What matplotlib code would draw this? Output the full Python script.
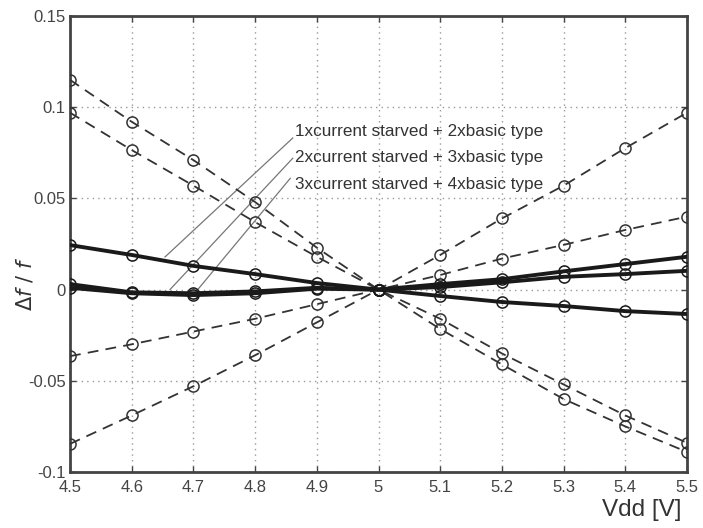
import matplotlib
matplotlib.use("Agg")
import matplotlib.pyplot as plt
import numpy as np

vdd = [4.5, 4.6, 4.7, 4.8, 4.9, 5.0, 5.1, 5.2, 5.3, 5.4, 5.5]

# dashed series
dash_a = [0.115, 0.092, 0.071, 0.048, 0.023, 0.0, -0.016, -0.035, -0.052, -0.069, -0.084]
dash_b = [0.097, 0.0765, 0.057, 0.037, 0.018, 0.0, -0.0216, -0.041, -0.060, -0.075, -0.089]
dash_c = [-0.0846, -0.069, -0.053, -0.036, -0.018, 0.0, 0.019, 0.039, 0.057, 0.0776, 0.097]
dash_d = [-0.0365, -0.030, -0.023, -0.016, -0.008, 0.0, 0.008, 0.017, 0.0245, 0.0327, 0.040]

# solid series
solid_1 = [0.0244, 0.019, 0.013, 0.0085, 0.0036, 0.0, -0.0035, -0.0068, -0.009, -0.0118, -0.0134]
solid_2 = [0.003, -0.0015, -0.002, -0.001, 0.001, 0.0, 0.003, 0.0057, 0.010, 0.014, 0.018]
solid_3 = [0.001, -0.002, -0.003, -0.002, 0.0005, 0.0, 0.0014, 0.004, 0.007, 0.0085, 0.0103]

labels = ["1xcurrent starved + 2xbasic type",
          "2xcurrent starved + 3xbasic type",
          "3xcurrent starved + 4xbasic type"]
label_text_pos = [(4.864, 0.0868), (4.864, 0.0724), (4.864, 0.0577)]
label_point = [(4.654, 0.0179), (4.662, 0.0), (4.707, 0.0)]
label_line_start = [(4.861, 0.0831), (4.861, 0.072), (4.857, 0.061)]

xticks = [4.5, 4.6, 4.7, 4.8, 4.9, 5.0, 5.1, 5.2, 5.3, 5.4, 5.5]
xticklabels = ["4.5", "4.6", "4.7", "4.8", "4.9", "5", "5.1", "5.2", "5.3", "5.4", "5.5"]
yticks = [-0.1, -0.05, 0.0, 0.05, 0.1, 0.15]
yticklabels = ["-0.1", "-0.05", "0", "0.05", "0.1", "0.15"]

plt.rcParams['font.family'] = ['Liberation Sans', 'DejaVu Sans']

fig = plt.figure(figsize=(7.03, 5.28), dpi=100)
ax = fig.add_axes([70/703, 1-472/528, 617/703, 456/528])

lc = '#1a1a1a'
for ys in [dash_a, dash_b, dash_c, dash_d]:
    ax.plot(vdd, ys, linestyle=(0, (6, 4)), color='#333333', linewidth=1.3,
            marker='o', markersize=8, markerfacecolor='none',
            markeredgecolor='#333333', markeredgewidth=1.1, zorder=3)
for ys in [solid_1, solid_2, solid_3]:
    ax.plot(vdd, ys, linestyle='-', color=lc, linewidth=2.8,
            marker='o', markersize=8, markerfacecolor='none',
            markeredgecolor=lc, markeredgewidth=1.1, zorder=4)

for lab, tp, pp, sp in zip(labels, label_text_pos, label_point, label_line_start):
    ax.plot([sp[0], pp[0]], [sp[1], pp[1]], color='#777777', linewidth=0.9, zorder=2)
    ax.text(tp[0], tp[1], lab, fontsize=12.3, color='#333333', va='center', ha='left')

ax.set_xlim(4.5, 5.5)
ax.set_ylim(-0.1, 0.15)
ax.set_xticks(xticks)
ax.set_xticklabels(xticklabels)
ax.set_yticks(yticks)
ax.set_yticklabels(yticklabels)
ax.tick_params(direction='in', length=4, width=1, colors='#444444', labelsize=12,
               top=True, right=True)
ax.tick_params(axis='x', pad=6)
ax.tick_params(axis='y', pad=3)
ax.grid(True, linestyle=(0, (1, 3)), color='#999999', linewidth=1)
for s in ax.spines.values():
    s.set_linewidth(2)
    s.set_color('#444444')

fig.text(25/703, 1-284/528, r'$\Delta f\ /\ f$', rotation=90, fontsize=15,
         color='#333333', ha='center', va='center')
fig.text(642/703, 1-510/528, 'Vdd [V]', fontsize=17.5, color='#333333',
         ha='center', va='center')

fig.savefig('out.png', dpi=100)
